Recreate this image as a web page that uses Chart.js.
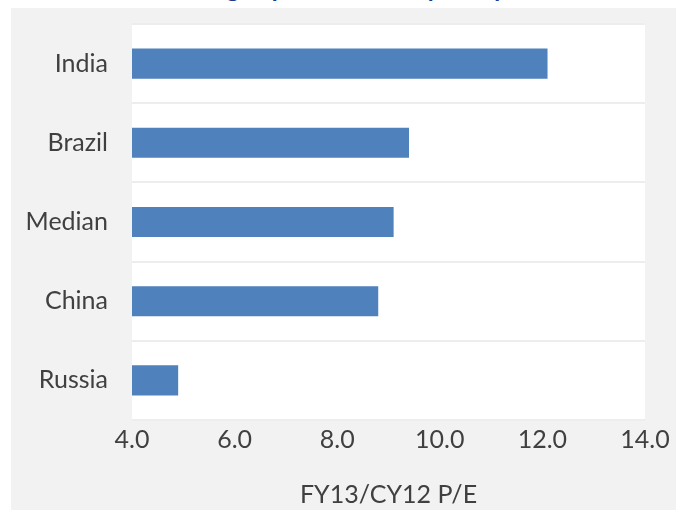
<!DOCTYPE html>
<html>
<head>
<meta charset="utf-8">
<script src="https://cdn.jsdelivr.net/npm/chart.js@4/dist/chart.umd.min.js"></script>
<style>
  html, body { margin: 0; padding: 0; background: #fff; }
  #wrap { position: relative; width: 676px; height: 510px; overflow: hidden; }
  #title {
    position: absolute; left: 14px; top: -27px; height: 30px; line-height: 29px;
    font: bold 24px Lato, sans-serif; color: #1f3a8a; white-space: nowrap;
  }
  canvas { position: absolute; left: 0; top: 0; }
</style>
</head>
<body>
<div id="wrap">
  <div id="title">Chart 3: India trading at premium multiple to peers</div>
  <canvas id="c" width="676" height="510"></canvas>
</div>
<script>
// Forward P/E by market
const markets = ['India', 'Brazil', 'Median', 'China', 'Russia'];
const peValues = [12.1, 9.4, 9.1, 8.8, 4.9];
const xMin = 4, xMax = 14, xStep = 2;
const axisTitle = 'FY13/CY12 P/E';

const textColor = '#404040';
const font = { family: 'Lato, sans-serif', size: 25 };

// grey panel behind everything, white plot area
const panelBg = {
  id: 'panelBg',
  beforeDraw(chart) {
    const { ctx, chartArea: a } = chart;
    ctx.save();
    ctx.fillStyle = '#f2f2f2';
    ctx.fillRect(11, 8, chart.width - 11, chart.height - 8);
    ctx.fillStyle = '#ffffff';
    ctx.fillRect(a.left, a.top, a.right - a.left, a.bottom - a.top);
    ctx.restore();
  }
};

new Chart(document.getElementById('c'), {
  type: 'bar',
  data: {
    labels: markets,
    datasets: [{
      data: peValues,
      backgroundColor: '#4f81bd',
      borderWidth: 0,
      categoryPercentage: 1,
      barPercentage: 0.38,
    }],
  },
  options: {
    indexAxis: 'y',
    responsive: false,
    animation: false,
    layout: { padding: { left: 11, top: 24, right: 31, bottom: 0 } },
    plugins: { legend: { display: false }, tooltip: { enabled: false } },
    scales: {
      x: {
        min: xMin, max: xMax,
        grid: { display: false, drawTicks: false },
        border: { display: false },
        ticks: {
          stepSize: xStep, padding: 5, color: textColor, font,
          callback: v => Number(v).toFixed(1),
        },
        title: { display: true, text: axisTitle, color: textColor, font, padding: { top: 0, bottom: 0 } },
        afterFit(s) { s.height = 90; s.paddingLeft = 0; s.paddingRight = 0; },
      },
      y: {
        grid: { color: '#ededed', lineWidth: 2, drawTicks: false },
        border: { display: false },
        ticks: { padding: 24, color: textColor, font },
        afterFit(s) { s.width = 121; s.paddingTop = 0; s.paddingBottom = 0; },
      },
    },
  },
  plugins: [panelBg],
});
</script>
</body>
</html>
